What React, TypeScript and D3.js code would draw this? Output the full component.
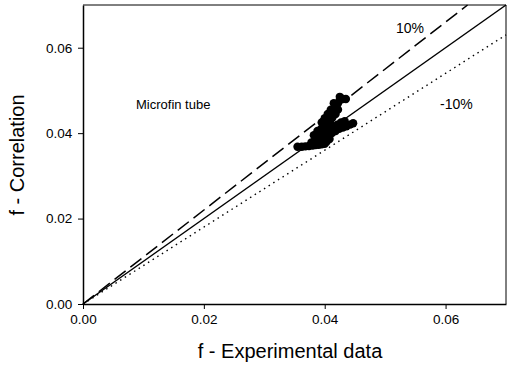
import React, {useRef, useEffect} from 'react'
import * as d3 from 'd3'

// experimental f (x) vs correlation f (y), microfin tube
const expData = [
  0.0355, 0.0362, 0.0368, 0.0374, 0.038, 0.0385, 0.039, 0.0395, 0.0378, 0.0384,
  0.0388, 0.0392, 0.0396, 0.0399, 0.0402, 0.0405, 0.0387, 0.0392, 0.0396, 0.04,
  0.0403, 0.0406, 0.0409, 0.0394, 0.0398, 0.0402, 0.0406, 0.041, 0.0413, 0.0408,
  0.0412, 0.0416, 0.0419, 0.0422, 0.0425, 0.043, 0.0412, 0.0418, 0.0424, 0.043,
  0.0436, 0.0442, 0.0447, 0.0415, 0.0421, 0.0427, 0.0433, 0.0403, 0.0408, 0.04,
  0.0395, 0.04, 0.0405, 0.041, 0.0415, 0.0398, 0.039, 0.0405, 0.0425, 0.0435,
  0.0388, 0.0382, 0.0418, 0.0422
]
const corrData = [
  0.0368, 0.0368, 0.0369, 0.037, 0.0371, 0.0372, 0.0373, 0.0374, 0.0378, 0.038,
  0.0383, 0.0386, 0.0389, 0.0392, 0.0395, 0.0398, 0.0392, 0.0398, 0.0403, 0.0408,
  0.0412, 0.0417, 0.0421, 0.041, 0.0416, 0.0422, 0.0427, 0.0432, 0.0437, 0.0442,
  0.0447, 0.0452, 0.046, 0.047, 0.0478, 0.048, 0.04, 0.0405, 0.041, 0.0413,
  0.0416, 0.042, 0.0423, 0.0415, 0.042, 0.0425, 0.0428, 0.038, 0.0386, 0.0375,
  0.0425, 0.0435, 0.0445, 0.0455, 0.047, 0.04, 0.038, 0.0405, 0.0485, 0.048,
  0.0405, 0.0395, 0.0445, 0.0455
]
const ticks = [0, 0.02, 0.04, 0.06]
const bandFactors = [1, 1.1, 0.9]
const bandLabels = ['', '10%', '-10%']

function App() {
  const ref = useRef(null)

  useEffect(() => {
    const svg = d3.select(ref.current)
    svg.selectAll('*').remove()

    const left = 83
    const right = 506
    const top = 5
    const bottom = 304
    const font = 'Liberation Sans, Arial, sans-serif'

    const x = d3.scaleLinear().domain([0, 0.07]).range([left, right])
    const y = d3.scaleLinear().domain([0, 0.07]).range([bottom, top])

    // reference lines y = x, +10%, -10%
    const dashes = ['none', '14,6', '1.5,4']
    bandFactors.forEach((k, i) => {
      const xEnd = Math.min(0.07, 0.07 / k)
      svg
        .append('line')
        .attr('x1', x(0))
        .attr('y1', y(0))
        .attr('x2', x(xEnd))
        .attr('y2', y(xEnd * k))
        .attr('stroke', '#000')
        .attr('stroke-width', i === 2 ? 1.4 : 1.5)
        .attr('stroke-dasharray', dashes[i])
    })

    svg
      .append('g')
      .selectAll('circle')
      .data(expData)
      .enter()
      .append('circle')
      .attr('cx', d => x(d))
      .attr('cy', (d, i) => y(corrData[i]))
      .attr('r', 4.2)
      .attr('fill', '#000')

    // frame
    svg
      .append('path')
      .attr('d', `M${left},${top}H${right}V${bottom}`)
      .attr('fill', 'none')
      .attr('stroke', '#000')
      .attr('stroke-width', 1)

    const xAxis = svg
      .append('g')
      .attr('transform', `translate(0,${bottom})`)
      .call(d3.axisBottom(x).tickValues(ticks).tickFormat(d3.format('.2f')).tickSize(5).tickSizeOuter(0))
    xAxis.select('.domain').attr('stroke-width', 1.5)
    xAxis.selectAll('text').attr('font-size', 13.5).attr('font-family', font).attr('fill', '#000').attr('dy', '0.9em')

    const yAxis = svg
      .append('g')
      .attr('transform', `translate(${left},0)`)
      .call(d3.axisLeft(y).tickValues(ticks).tickFormat(d3.format('.2f')).tickSize(5).tickSizeOuter(0))
    yAxis.select('.domain').attr('stroke-width', 1.5)
    yAxis.selectAll('text').attr('font-size', 13.5).attr('font-family', font).attr('fill', '#000').attr('dx', '-0.2em')

    svg
      .append('text')
      .attr('x', 290)
      .attr('y', 358)
      .attr('text-anchor', 'middle')
      .attr('font-family', font)
      .attr('font-size', 20)
      .text('f - Experimental data')

    svg
      .append('text')
      .attr('transform', 'translate(24,155) rotate(-90)')
      .attr('text-anchor', 'middle')
      .attr('font-family', font)
      .attr('font-size', 20)
      .text('f - Correlation')

    svg
      .append('text')
      .attr('x', 136)
      .attr('y', 109)
      .attr('font-family', font)
      .attr('font-size', 13)
      .text('Microfin tube')

    svg
      .append('text')
      .attr('x', 396)
      .attr('y', 33)
      .attr('font-family', font)
      .attr('font-size', 14)
      .text(bandLabels[1])

    svg
      .append('text')
      .attr('x', 440)
      .attr('y', 109)
      .attr('font-family', font)
      .attr('font-size', 14)
      .text(bandLabels[2])
  }, [])

  return (
    <svg
      width="507"
      height="369"
      style={{position: 'absolute', left: 0, top: 0, background: '#fff'}}
      ref={ref}
    />
  )
}

export default App
